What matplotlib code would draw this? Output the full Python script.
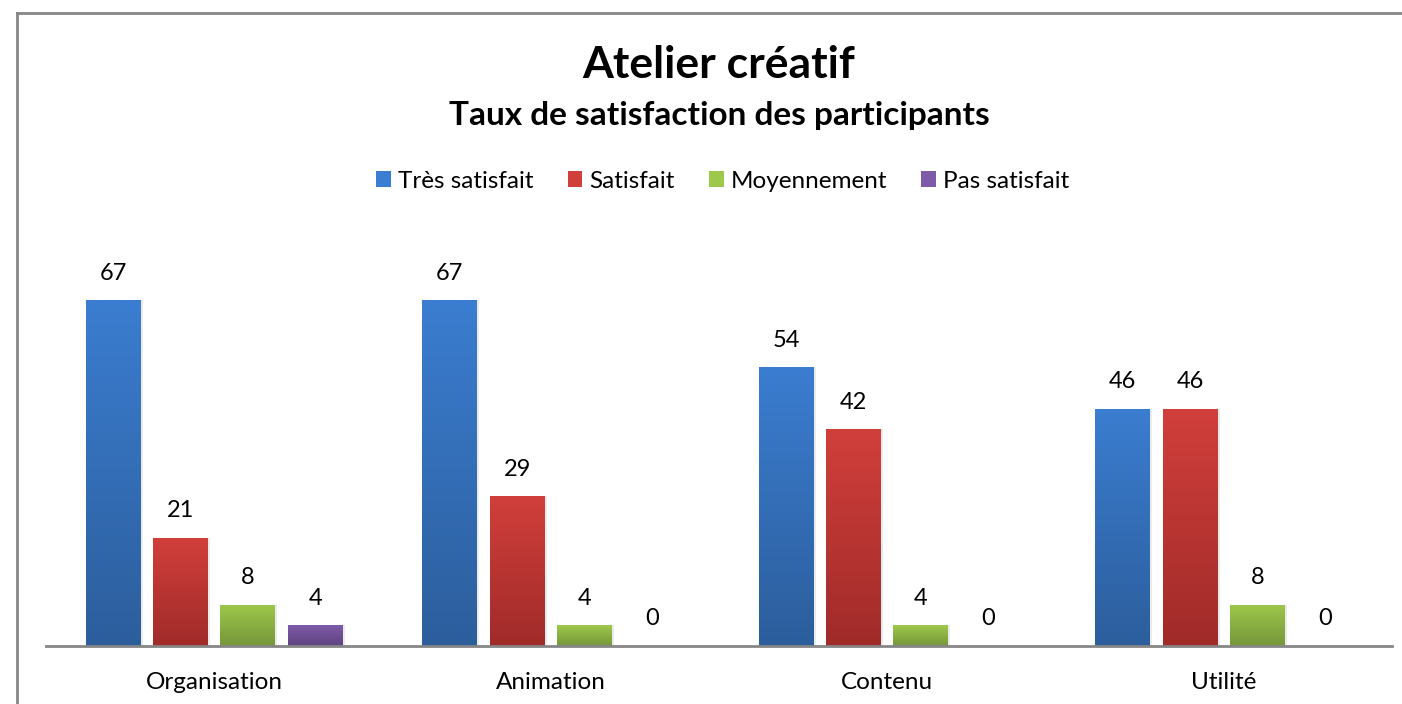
#!/usr/bin/env python

import numpy as np
import matplotlib
matplotlib.use("Agg")
from matplotlib import pyplot as plt
from matplotlib.patches import Rectangle
from matplotlib.colors import LinearSegmentedColormap

plt.rcParams['font.family'] = ['Lato', 'DejaVu Sans']

# data
categories = ["Organisation", "Animation", "Contenu", "Utilité"]
series_names = ["Très satisfait", "Satisfait", "Moyennement", "Pas satisfait"]
tres_satisfait = [67, 67, 54, 46]
satisfait = [21, 29, 42, 46]
moyennement = [8, 4, 4, 8]
pas_satisfait = [4, 0, 0, 0]

series = [tres_satisfait, satisfait, moyennement, pas_satisfait]
# (top colour, bottom colour) for the gradient fill
colors = [("#3b7dd0", "#2c5e9c"),
          ("#d13f3b", "#a02b29"),
          ("#9ec84b", "#76963a"),
          ("#7e5ba8", "#5f437f")]

fig = plt.figure(figsize=(14.02, 7.04), dpi=100)
ax = fig.add_axes([46 / 1402, 1 - 646 / 704, 1346 / 1402, 413 / 704])

x = np.arange(len(categories))
width = 0.163
offsets = [-0.3, -0.1, 0.1, 0.3]

grad = np.linspace(1, 0, 256).reshape(-1, 1)
for vals, (top, bottom), off in zip(series, colors, offsets):
    cmap = LinearSegmentedColormap.from_list("g", [bottom, top])
    for xi, v in zip(x, vals):
        left = xi + off - width / 2
        if v > 0:
            # soft shadow
            sh = Rectangle((left + 0.006, 0), width, v, facecolor="#000000",
                           alpha=0.08, edgecolor="none", zorder=1)
            ax.add_patch(sh)
            rect = Rectangle((left, 0), width, v, facecolor="none",
                             edgecolor="none", zorder=2)
            ax.add_patch(rect)
            im = ax.imshow(grad, cmap=cmap, aspect="auto",
                           extent=(left, left + width, 0, v), zorder=2,
                           interpolation="bilinear")
            im.set_clip_path(rect)
        ax.text(xi + off, v + 3.2, str(v), ha="center", va="bottom",
                fontsize=17, color="#000000")

ax.set_xlim(-0.5, len(categories) - 0.5)
ax.set_ylim(0, 80)

for s in ["top", "right", "left"]:
    ax.spines[s].set_visible(False)
ax.spines["bottom"].set_color("#868686")
ax.spines["bottom"].set_linewidth(2)
ax.set_yticks([])
ax.set_xticks(x)
ax.set_xticklabels(categories, fontsize=17.5)
ax.tick_params(axis="x", length=0, pad=19)

# legend
handles = [Rectangle((0, 0), 1, 1, facecolor=c[0]) for c in colors]
fig.legend(handles, series_names, loc="center", bbox_to_anchor=(723 / 1402, 1 - 181 / 704),
           ncol=4, frameon=False, fontsize=17.5, handlelength=0.6, handleheight=0.6,
           handletextpad=0.3, columnspacing=1.4)

fig.text(719 / 1402, 1 - 65 / 704, "Atelier créatif", ha="center", va="center",
         fontsize=32, fontweight="bold")
fig.text(719 / 1402, 1 - 116 / 704, "Taux de satisfaction des participants",
         ha="center", va="center", fontsize=24, fontweight="bold")

# chart frame (left and top edges visible)
fig.add_artist(plt.Line2D([17 / 1402, 17 / 1402], [0, 1 - 13 / 704],
                          color="#868686", linewidth=2, transform=fig.transFigure))
fig.add_artist(plt.Line2D([17 / 1402, 1], [1 - 13 / 704, 1 - 13 / 704],
                          color="#868686", linewidth=2, transform=fig.transFigure))

fig.savefig("out.png", dpi=100, facecolor="white")
